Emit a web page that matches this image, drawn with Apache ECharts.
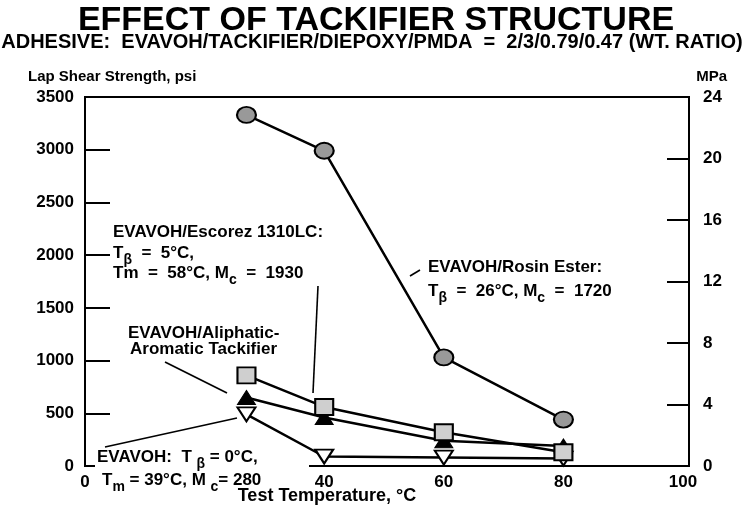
<!DOCTYPE html>
<html>
<head>
<meta charset="utf-8">
<script src="https://cdn.jsdelivr.net/npm/echarts@6/dist/echarts.min.js"></script>
<style>
html, body { margin: 0; padding: 0; background: #fff; }
#chart { width: 753px; height: 512px; }
</style>
</head>
<body>
<div id="chart"></div>
<script>
// test temperature, °C
var temps = [27, 40, 60, 80];
// lap shear strength, psi
var rosinEster = [3330, 2990, 1030, 440];
var escorez = [860, 560, 320, 130];
var aliphaticAromatic = [650, 460, 240, 190];
var evavohOnly = [490, 90, 80, 70];
// axis ticks
var xTickLabels = [0, 40, 60, 80, 100];
var psiTicks = [0, 500, 1000, 1500, 2000, 2500, 3000, 3500];
var mpaTicks = [0, 4, 8, 12, 16, 20, 24];

function pairs(ys) {
  return ys.map(function (y, i) { return [temps[i], y]; });
}

var FONT = '"Liberation Sans", Arial, sans-serif';
var chartDom = document.getElementById('chart');
var myChart = echarts.init(chartDom);

// rich text styles for the annotation labels (n = normal, s = lowered subscript)
var rich = {
  n: { fontSize: 17, fontWeight: 'bold', fontFamily: FONT, color: '#000', lineHeight: 18, verticalAlign: 'top' },
  s: { fontSize: 14, fontWeight: 'bold', fontFamily: FONT, color: '#000', lineHeight: 22, verticalAlign: 'bottom' }
};

function label(x, y, text) {
  return {
    type: 'text',
    z: 101,
    style: {
      x: x, y: y, text: text, rich: rich,
      fontSize: 17, fontWeight: 'bold', fontFamily: FONT, fill: '#000',
      align: 'left', verticalAlign: 'top'
    }
  };
}

function leader(x1, y1, x2, y2) {
  return {
    type: 'line', z: 101,
    shape: { x1: x1, y1: y1, x2: x2, y2: y2 },
    style: { stroke: '#000', lineWidth: 1.6 }
  };
}

var lineStyle = { color: '#000', width: 2.5 };
var plain = function (v) { return String(v); };

var option = {
  backgroundColor: '#fff',
  animation: false,
  grid: {
    left: 85, right: 64, top: 97, bottom: 46,
    show: true, borderColor: '#000', borderWidth: 2
  },
  xAxis: {
    type: 'value', min: 0, max: 101, interval: 20,
    axisLine: { show: true, lineStyle: { color: '#000', width: 2 } },
    axisTick: { show: false },
    splitLine: { show: false },
    axisLabel: {
      color: '#000', fontSize: 17, fontWeight: 'bold', fontFamily: FONT, margin: 8,
      showMaxLabel: false,
      formatter: function (v) { return xTickLabels.indexOf(v) >= 0 ? String(v) : ''; }
    }
  },
  yAxis: [
    {
      type: 'value', min: psiTicks[0], max: psiTicks[psiTicks.length - 1], interval: 500,
      position: 'left',
      axisLine: { show: true, lineStyle: { color: '#000', width: 2 } },
      axisTick: { show: true, inside: true, length: 25, lineStyle: { color: '#000', width: 2 } },
      splitLine: { show: false },
      axisLabel: { color: '#000', fontSize: 17, fontWeight: 'bold', fontFamily: FONT, margin: 11, formatter: plain }
    },
    {
      type: 'value', min: mpaTicks[0], max: mpaTicks[mpaTicks.length - 1], interval: 4,
      position: 'right',
      axisLine: { show: true, lineStyle: { color: '#000', width: 2 } },
      axisTick: { show: true, inside: true, length: 22, lineStyle: { color: '#000', width: 2 } },
      splitLine: { show: false },
      axisLabel: { color: '#000', fontSize: 17, fontWeight: 'bold', fontFamily: FONT, margin: 14, formatter: plain }
    }
  ],
  series: [
    {
      name: 'EVAVOH', type: 'line', data: pairs(evavohOnly), z: 3,
      symbol: 'triangle', symbolRotate: 180, symbolSize: [18, 14],
      itemStyle: { color: '#fff', borderColor: '#000', borderWidth: 2 },
      lineStyle: lineStyle
    },
    {
      name: 'EVAVOH/Aliphatic-Aromatic Tackifier', type: 'line', data: pairs(aliphaticAromatic), z: 4,
      symbol: 'triangle', symbolSize: [18, 14],
      itemStyle: { color: '#000', borderColor: '#000', borderWidth: 1 },
      lineStyle: lineStyle
    },
    {
      name: 'EVAVOH/Escorez 1310LC', type: 'line', data: pairs(escorez), z: 5,
      symbol: 'rect', symbolSize: [18, 16],
      itemStyle: { color: '#cfcfcf', borderColor: '#000', borderWidth: 2 },
      lineStyle: lineStyle
    },
    {
      name: 'EVAVOH/Rosin Ester', type: 'line', data: pairs(rosinEster), z: 6,
      symbol: 'circle', symbolSize: [19, 16],
      itemStyle: { color: '#999', borderColor: '#000', borderWidth: 2 },
      lineStyle: lineStyle
    }
  ],
  graphic: [
    // titles
    { type: 'text', style: { x: 376, y: 21, text: 'EFFECT OF TACKIFIER STRUCTURE', align: 'center',
        verticalAlign: 'middle', fontSize: 34, fontWeight: 'bold', fontFamily: FONT, fill: '#000' } },
    { type: 'text', style: { x: 372, y: 42, text: 'ADHESIVE:  EVAVOH/TACKIFIER/DIEPOXY/PMDA  =  2/3/0.79/0.47 (WT. RATIO)',
        align: 'center', verticalAlign: 'middle', fontSize: 20, fontWeight: 'bold', fontFamily: FONT, fill: '#000' } },
    // axis names
    { type: 'text', style: { x: 28, y: 77, text: 'Lap Shear Strength, psi', align: 'left',
        verticalAlign: 'middle', fontSize: 15, fontWeight: 'bold', fontFamily: FONT, fill: '#000' } },
    { type: 'text', style: { x: 727, y: 77, text: 'MPa', align: 'right',
        verticalAlign: 'middle', fontSize: 15, fontWeight: 'bold', fontFamily: FONT, fill: '#000' } },
    { type: 'text', style: { x: 327, y: 496, text: 'Test Temperature, °C', align: 'center',
        verticalAlign: 'middle', fontSize: 18, fontWeight: 'bold', fontFamily: FONT, fill: '#000' } },
    // white patch behind the EVAVOH note on the x axis
    { type: 'rect', z: 100, shape: { x: 95, y: 456, width: 214, height: 18 }, style: { fill: '#fff' } },
    // annotations
    label(113, 224, '{n|EVAVOH/Escorez 1310LC:}'),
    label(113, 245, '{n|T}{s|β}{n|  =  5°C,}'),
    label(113, 265, '{n|Tm  =  58°C, M}{s|c}{n|  =  1930}'),
    leader(318, 286, 313, 393),
    label(128, 325, '{n|EVAVOH/Aliphatic-}'),
    label(130, 341, '{n|Aromatic Tackifier}'),
    leader(165, 362, 227, 393),
    label(97, 449, '{n|EVAVOH:  T }{s|β}{n| = 0°C,}'),
    label(102, 472, '{n|T}{s|m}{n| = 39°C, M }{s|c}{n|= 280}'),
    leader(105, 447, 237, 418),
    label(428, 259, '{n|EVAVOH/Rosin Ester:}'),
    label(428, 283, '{n|T}{s|β}{n|  =  26°C, M}{s|c}{n|  =  1720}'),
    leader(410, 276, 420, 270)
  ]
};

myChart.setOption(option);
</script>
</body>
</html>
